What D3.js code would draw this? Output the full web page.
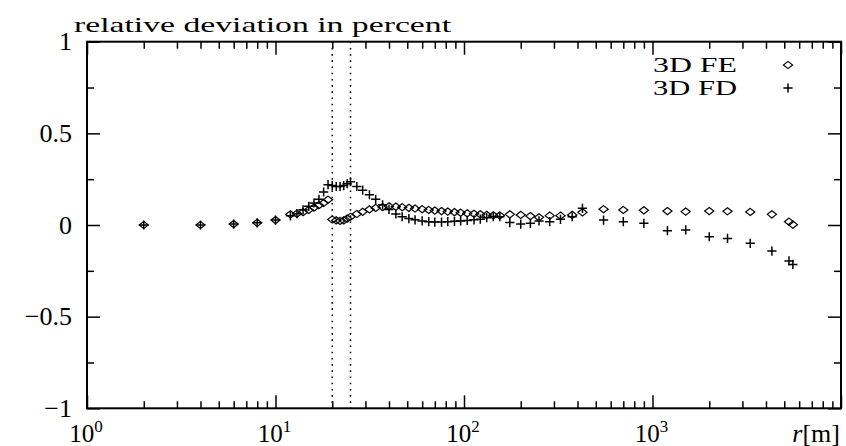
<!DOCTYPE html>
<html>
<head>
<meta charset="utf-8">
<script src="https://cdn.jsdelivr.net/npm/d3@7"></script>
<style>
  html, body { margin: 0; padding: 0; background: #fff; }
  svg { display: block; }
  text { font-family: "Liberation Serif", "DejaVu Serif", serif; fill: #000; }
</style>
</head>
<body>
<svg id="chart" width="846" height="446"></svg>
<script>
// ---- data ----
const radius = [2,4,6,8,10,12,13,14,15,16,17,18,19,20,21,22,23,24,25,27,29,31.5,34,37,40,43.5,47,51,55,
  60,65,70,76,82,89,96,104,113,122,132,143,155,175,200,225,250,285,325,375,425,
  550,700,900,1200,1500,2000,2500,3300,4300,5300,5555];
const fe3d = [0,0,0.005,0.012,0.027,
  0.058,0.062,0.07,0.082,0.095,0.108,0.12,0.138,
  0.03,0.025,0.022,0.025,0.035,0.045,
  0.06,0.072,0.085,0.093,0.098,0.102,0.1,0.097,0.094,0.09,
  0.086,0.082,0.079,0.076,0.073,0.07,0.067,0.064,0.061,0.058,
  0.055,0.053,0.052,
  0.058,0.055,0.049,0.042,0.051,0.051,0.055,0.069,
  0.086,0.082,0.08,0.076,0.073,0.076,0.075,0.071,0.058,0.018,0.002];
const fd3d = [0,0,0.005,0.012,0.027,
  0.05,0.062,0.083,0.102,0.12,0.14,0.18,0.22,
  0.215,0.21,0.21,0.215,0.225,0.236,
  0.21,0.19,0.165,0.14,0.11,0.085,0.06,0.045,0.035,0.028,
  0.022,0.018,0.016,0.016,0.018,0.02,0.022,0.025,0.028,0.032,
  0.04,0.045,0.045,
  0.013,0.005,0.009,0.022,0.018,0.031,0.045,0.091,
  0.027,0.018,0.009,-0.031,-0.027,-0.064,-0.073,-0.1,-0.142,-0.196,-0.215];
const markerLines = [20, 25];
const seriesNames = ["3D FE", "3D FD"];
const xMajorTicks = [1, 10, 100, 1000, 10000];
const xLabelTicks = [1, 10, 100, 1000];
const yMajorTicks = [-1, -0.5, 0, 0.5, 1];
const yMinorTicks = [-0.75, -0.25, 0.25, 0.75];
const yTitle = "relative deviation in percent";

// ---- layout ----
const L = 87, R = 841, T = 41.7, B = 408.3;
const svg = d3.select("#chart");
const x = d3.scaleLog().domain([1, 1e4]).range([L, R]);
const y = d3.scaleLinear().domain([-1, 1]).range([B, T]);

const xMinorTicks = [];
for (let d = 1; d < 1e4; d *= 10) for (let k = 2; k <= 9; k++) xMinorTicks.push(d * k);

function styleAxis(g) {
  g.select(".domain").remove();
  g.selectAll(".tick line").attr("stroke", "#000").attr("stroke-width", 1.5);
}

// bottom axis
svg.append("g").attr("transform", `translate(0,${B})`)
  .call(d3.axisBottom(x).tickValues(xMajorTicks).tickSize(-13).tickFormat(""))
  .call(styleAxis);
svg.append("g").attr("transform", `translate(0,${B})`)
  .call(d3.axisBottom(x).tickValues(xMinorTicks).tickSize(-7).tickFormat(""))
  .call(styleAxis);
// top axis
svg.append("g").attr("transform", `translate(0,${T})`)
  .call(d3.axisTop(x).tickValues(xMajorTicks).tickSize(-13).tickFormat(""))
  .call(styleAxis);
svg.append("g").attr("transform", `translate(0,${T})`)
  .call(d3.axisTop(x).tickValues(xMinorTicks).tickSize(-7).tickFormat(""))
  .call(styleAxis);
// left axis
svg.append("g").attr("transform", `translate(${L},0)`)
  .call(d3.axisLeft(y).tickValues(yMajorTicks).tickSize(-13).tickPadding(15).tickFormat(d3.format("")))
  .call(styleAxis)
  .call(g => g.selectAll("text").attr("font-size", 26).attr("dy", "0.31em")
    .style("font-family", '"Liberation Serif", "DejaVu Serif", serif'));
svg.append("g").attr("transform", `translate(${L},0)`)
  .call(d3.axisLeft(y).tickValues(yMinorTicks).tickSize(-7).tickFormat(""))
  .call(styleAxis);
// right axis
svg.append("g").attr("transform", `translate(${R},0)`)
  .call(d3.axisRight(y).tickValues(yMajorTicks).tickSize(-13).tickFormat(""))
  .call(styleAxis);
svg.append("g").attr("transform", `translate(${R},0)`)
  .call(d3.axisRight(y).tickValues(yMinorTicks).tickSize(-7).tickFormat(""))
  .call(styleAxis);

// x tick labels 10^n
const xl = svg.append("g").selectAll("text").data(xLabelTicks).join("text")
  .attr("x", d => x(d) - 1).attr("y", 441.5)
  .attr("text-anchor", "middle").attr("font-size", 25);
xl.append("tspan").text("10");
xl.append("tspan").attr("font-size", 17).attr("dy", -10).text(d => Math.round(Math.log10(d)));

// axis title (x)
const xt = svg.append("text").attr("x", 840).attr("y", 441.5).attr("text-anchor", "end").attr("font-size", 26);
xt.append("tspan").attr("font-style", "italic").text("r");
xt.append("tspan").text("[m]");

// y title
svg.append("text").attr("x", 74).attr("y", 32).attr("font-size", 22)
  .attr("textLength", 377).attr("lengthAdjust", "spacingAndGlyphs").text(yTitle);

// frame
svg.append("rect").attr("x", L).attr("y", T).attr("width", R - L).attr("height", B - T)
  .attr("fill", "none").attr("stroke", "#000").attr("stroke-width", 2);

// dotted vertical lines
svg.append("g").selectAll("line").data(markerLines).join("line")
  .attr("x1", d => x(d)).attr("x2", d => x(d)).attr("y1", T).attr("y2", B)
  .attr("stroke", "#000").attr("stroke-width", 1.5).attr("stroke-dasharray", "1.6,4.6");

// markers
const diamond = "M0,-3.6L4.6,0L0,3.6L-4.6,0Z";
const plus = "M-4.6,0H4.6M0,-4.6V4.6";
const feData = radius.map((r, i) => ({ r, v: fe3d[i] }));
const fdData = radius.map((r, i) => ({ r, v: fd3d[i] }));

svg.append("g").selectAll("path").data(feData).join("path")
  .attr("d", diamond).attr("transform", d => `translate(${x(d.r)},${y(d.v)})`)
  .attr("fill", "none").attr("stroke", "#000").attr("stroke-width", 1.2);
svg.append("g").selectAll("path").data(fdData).join("path")
  .attr("d", plus).attr("transform", d => `translate(${x(d.r)},${y(d.v)})`)
  .attr("fill", "none").attr("stroke", "#000").attr("stroke-width", 1.5);

// legend
const lg = svg.append("g");
seriesNames.forEach((name, i) => {
  const yy = 72 + i * 23;
  lg.append("text").attr("x", 737).attr("y", yy).attr("text-anchor", "end").attr("font-size", 20)
    .attr("textLength", 84).attr("lengthAdjust", "spacingAndGlyphs").text(name);
  lg.append("path").attr("d", i === 0 ? diamond : plus)
    .attr("transform", `translate(788,${yy - 7})`)
    .attr("fill", "none").attr("stroke", "#000").attr("stroke-width", i === 0 ? 1.2 : 1.5);
});
</script>
</body>
</html>
